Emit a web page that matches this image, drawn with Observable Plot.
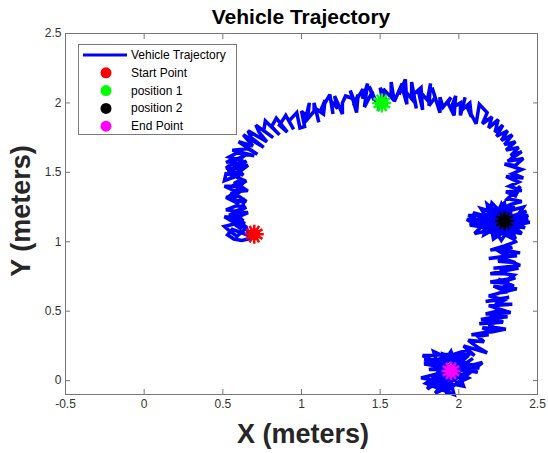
<!DOCTYPE html>
<html><head><meta charset="utf-8">
<script src="https://cdn.jsdelivr.net/npm/d3@7"></script>
<script src="https://cdn.jsdelivr.net/npm/@observablehq/plot@0.6"></script>
<style>
body{margin:0;background:#fff;font-family:"Liberation Sans",Arial,Helvetica,sans-serif}
#wrap{position:relative;width:548px;height:453px}
#wrap svg{position:absolute;left:0;top:0}
.ttl{position:absolute;font-weight:bold;color:#000;white-space:nowrap;line-height:1.15}
#legend{position:absolute;left:78px;top:44px;width:159px;height:91px;border:1px solid #7a7a7a;background:#fff;box-sizing:border-box}
.lrow{position:absolute;left:52px;font-size:12px;color:#000;white-space:nowrap;line-height:14px}
</style></head><body><div id="wrap"></div>
<script>
const chartTitle = "Vehicle Trajectory";
const xLabel = "X (meters)";
const yLabel = "Y (meters)";
const xTicks = [-0.5, 0, 0.5, 1, 1.5, 2, 2.5];
const yTicks = [0, 0.5, 1, 1.5, 2, 2.5];
const xDomain = [-0.5, 2.5];
const yDomain = [-0.1, 2.5];

// trajectory samples (x, y in meters)
const trajectory = [
// start hook
[0.70,1.05],[0.66,1.02],[0.62,1.01],[0.57,1.02],[0.53,1.05],[0.56,1.09],[0.63,1.06],[0.67,1.04],[0.65,1.10],[0.59,1.04],[0.54,1.08],
// left column
[0.51,1.11],[0.58,1.13],[0.62,1.09],[0.57,1.13],[0.65,1.10],[0.61,1.15],[0.54,1.16],[0.59,1.17],[0.64,1.13],[0.57,1.14],[0.51,1.18],[0.61,1.17],[0.56,1.20],
[0.63,1.15],[0.58,1.21],[0.66,1.21],[0.60,1.18],[0.54,1.19],[0.61,1.23],[0.56,1.20],[0.65,1.25],[0.58,1.22],[0.52,1.23],[0.59,1.26],[0.63,1.25],
[0.63,1.30],[0.59,1.28],[0.52,1.32],[0.60,1.33],[0.65,1.29],[0.58,1.30],[0.56,1.35],[0.61,1.36],[0.53,1.32],[0.59,1.37],[0.66,1.37],[0.58,1.36],[0.63,1.39],
[0.56,1.34],[0.61,1.40],[0.51,1.40],[0.57,1.37],[0.64,1.38],[0.59,1.42],[0.54,1.39],[0.61,1.41],[0.65,1.44],[0.57,1.42],[0.62,1.45],[0.58,1.47],[0.51,1.44],
[0.52,1.49],[0.61,1.47],[0.56,1.51],[0.63,1.48],[0.58,1.54],[0.66,1.55],[0.60,1.50],[0.53,1.51],[0.61,1.56],[0.56,1.55],[0.65,1.58],[0.60,1.53],
[0.52,1.53],[0.59,1.59],[0.63,1.59],[0.57,1.60],[0.52,1.57],[0.62,1.61],[0.57,1.58],[0.65,1.63],[0.60,1.59],[0.54,1.61],[0.59,1.64],[0.64,1.63],
// upper-left bend
[0.70,1.62],[0.56,1.66],[0.66,1.67],[0.72,1.63],[0.60,1.72],[0.69,1.69],[0.63,1.77],[0.76,1.68],[0.68,1.75],[0.66,1.80],
[0.78,1.72],[0.73,1.79],[0.71,1.84],[0.82,1.75],[0.76,1.80],[0.77,1.87],[0.86,1.77],[0.81,1.83],[0.84,1.89],[0.91,1.79],
[0.86,1.84],[0.90,1.91],[0.95,1.81],[0.92,1.87],[0.97,1.93],[0.99,1.82],
// top arc
[1.02,1.83],[1.00,1.94],[1.04,1.90],[1.05,2.00],[1.02,1.86],[1.08,1.94],[1.08,2.00],[1.11,1.86],[1.09,1.96],[1.14,1.92],
[1.15,2.02],[1.12,1.94],[1.18,2.06],[1.20,1.92],[1.19,2.01],[1.23,1.96],[1.21,2.05],[1.26,1.92],[1.26,2.00],[1.28,2.05],
[1.33,2.03],[1.31,2.09],[1.35,1.93],[1.36,2.06],[1.33,1.98],[1.39,2.10],[1.39,2.03],[1.42,2.14],[1.40,1.97],[1.45,2.08],
[1.46,2.02],[1.43,2.12],[1.49,1.97],[1.51,2.05],[1.50,2.11],[1.54,1.97],[1.52,2.10],[1.57,2.04],[1.57,2.15],[1.59,2.01],
[1.64,2.14],[1.62,2.06],[1.66,2.17],[1.67,1.99],[1.64,2.11],[1.70,2.03],[1.70,2.15],[1.73,1.96],[1.71,2.06],[1.76,2.11],
[1.77,1.95],[1.74,2.10],[1.80,2.02],[1.82,2.14],[1.81,1.98],[1.85,2.04],[1.83,2.11],[1.88,1.93],[1.88,2.04],[1.90,1.97],
[1.95,2.04],[1.93,2.00],[1.97,1.91],[1.98,2.05],[1.95,1.96],[2.01,2.00],[2.01,1.91],[2.04,2.04],[2.02,1.95],[2.07,2.00],
[2.08,1.90],[2.05,1.98],[2.11,1.85],[2.13,1.99],
// upper-right bend
[2.18,1.93],[2.15,1.85],[2.21,1.90],[2.19,1.82],[2.25,1.88],[2.23,1.79],[2.28,1.84],[2.24,1.76],[2.31,1.80],[2.27,1.73],
[2.34,1.77],[2.29,1.70],[2.36,1.72],[2.30,1.66],[2.38,1.68],[2.33,1.62],[2.40,1.65],[2.31,1.58],[2.41,1.60],[2.36,1.55],
[2.29,1.56],[2.40,1.52],[2.34,1.49],[2.41,1.46],
// right column above position 2
[2.30,1.47],[2.38,1.43],[2.32,1.40],[2.40,1.37],[2.30,1.36],[2.36,1.33],[2.39,1.40],[2.31,1.31],[2.40,1.29],
// cluster around position 2
[2.33,1.27],[2.07,1.12],[2.40,1.06],[2.18,1.27],[2.22,1.02],[2.44,1.19],[2.06,1.19],[2.33,1.03],[2.29,1.28],[2.10,1.06],
[2.45,1.14],[2.14,1.24],[2.27,1.01],[2.41,1.25],[2.08,1.15],[2.37,1.09],[2.21,1.28],[2.16,1.05],[2.43,1.22],[2.12,1.10],
[2.35,1.26],[2.25,1.04],[2.05,1.16],[2.42,1.10],[2.24,1.24],[2.13,1.13],[2.38,1.17],[2.30,1.05],[2.17,1.20],[2.44,1.16],
[2.20,1.08],[2.27,1.27],[2.36,1.02],[2.09,1.21],[2.32,1.14],[2.19,1.12],[2.40,1.21],[2.26,1.09],[2.14,1.18],[2.34,1.20],
[2.22,1.16],[2.30,1.10],[2.36,1.00],[2.29,0.97],
// right column going down
[2.20,0.94],[2.34,0.96],[2.27,0.93],[2.39,0.92],[2.23,0.95],[2.30,0.90],[2.37,0.90],[2.19,0.88],[2.32,0.90],[2.25,0.86],
[2.36,0.85],[2.28,0.88],[2.39,0.83],[2.22,0.81],[2.33,0.82],[2.26,0.79],[2.38,0.81],[2.20,0.77],[2.29,0.77],[2.35,0.76],
[2.30,0.72],[2.36,0.74],[2.20,0.71],[2.32,0.70],[2.25,0.73],[2.35,0.68],[2.28,0.68],[2.37,0.66],[2.22,0.68],[2.31,0.64],
[2.25,0.63],[2.36,0.66],[2.19,0.61],[2.26,0.59],[2.32,0.60],[2.17,0.57],[2.31,0.59],[2.23,0.55],[2.34,0.55],[2.19,0.54],
[2.30,0.50],[2.23,0.52],[2.33,0.49],[2.17,0.48],[2.28,0.51],[2.20,0.46],[2.31,0.46],[2.14,0.44],[2.23,0.46],[2.28,0.42],
[2.13,0.41],[2.27,0.44],[2.19,0.39],[2.30,0.37],[2.15,0.38],[2.21,0.35],[2.29,0.37],[2.08,0.33],[2.19,0.33],[2.12,0.32],
[2.16,0.28],[2.06,0.29],[2.12,0.24],[2.18,0.20],[2.03,0.25],[2.10,0.18],
// cluster around end point
[2.05,0.22],[1.78,0.12],[2.12,0.06],[1.84,0.21],[1.92,-0.08],[2.15,0.13],[1.76,0.02],[2.03,-0.04],[1.95,0.21],[1.80,-0.06],
[2.09,0.16],[1.88,0.00],[1.99,0.19],[1.77,0.18],[2.06,0.02],[1.85,-0.09],[2.00,0.12],[1.81,0.08],[2.13,0.09],[1.90,0.19],
[1.97,-0.10],[1.79,-0.02],[2.08,0.20],[1.86,0.14],[2.02,0.04],[1.83,0.01],[1.94,0.15],[2.10,0.10],[1.88,-0.06],[1.98,0.08],
[1.78,0.15],[2.04,0.16],[1.91,0.03],[1.82,-0.04],[2.00,-0.02],[1.87,0.09],[2.07,0.07],[1.93,0.11],[1.97,0.07]
];

const markerNames = ["Start Point", "position 1", "position 2", "End Point"];
const markerX = [0.70, 1.51, 2.29, 1.95];
const markerY = [1.055, 2.00, 1.15, 0.07];
const markerColors = ["#ff0000", "#00ff00", "#000000", "#ff00ff"];
const lineName = "Vehicle Trajectory";
const lineColor = "#0000ff";

const markers = markerNames.map((n, i) => ({name: n, x: markerX[i], y: markerY[i], c: markerColors[i]}));

const wrap = document.getElementById("wrap");
const fmt = d => String(d);
const axisColor = "#777";

const chart = Plot.plot({
  width: 548, height: 453,
  marginLeft: 65, marginRight: 11, marginTop: 33, marginBottom: 59,
  style: {fontFamily: '"Liberation Sans", Arial, sans-serif', fontSize: "12px", color: "#333", background: "transparent"},
  x: {domain: xDomain, ticks: xTicks, tickFormat: fmt, label: null},
  y: {domain: yDomain, ticks: yTicks, tickFormat: fmt, label: null},
  marks: [
    Plot.line(trajectory, {x: d => d[0], y: d => d[1], stroke: lineColor, strokeWidth: 3.5, strokeLinejoin: "miter", strokeMiterlimit: 3}),
    Plot.dot(markers, {x: "x", y: "y", fill: d => d.c, r: 6, symbol: "circle"}),
    Plot.dot(markers, {x: "x", y: "y", stroke: d => d.c, r: 9, symbol: "asterisk", strokeWidth: 2.5}),
    Plot.dot(markers, {x: "x", y: "y", stroke: d => d.c, r: 9, symbol: "asterisk", strokeWidth: 2.5, rotate: 30}),
    Plot.frame({stroke: axisColor, strokeWidth: 1}),
    Plot.axisX(xTicks, {anchor: "bottom", tickSize: 0, tickPadding: 5, tickFormat: fmt, fill: "#333", fontSize: 12}),
    Plot.axisY(yTicks, {anchor: "left", tickSize: 0, tickPadding: 4, tickFormat: fmt, fill: "#333", fontSize: 12}),
    Plot.axisX(xTicks, {anchor: "bottom", tickSize: -5, tickFormat: () => "", stroke: axisColor}),
    Plot.axisX(xTicks, {anchor: "top", tickSize: -5, tickFormat: () => "", stroke: axisColor}),
    Plot.axisY(yTicks, {anchor: "left", tickSize: -5, tickFormat: () => "", stroke: axisColor}),
    Plot.axisY(yTicks, {anchor: "right", tickSize: -5, tickFormat: () => "", stroke: axisColor})
  ]
});
wrap.appendChild(chart);

function addText(txt, css) {
  const d = document.createElement("div");
  d.className = "ttl";
  d.textContent = txt;
  Object.assign(d.style, css);
  wrap.appendChild(d);
  return d;
}
addText(chartTitle, {left: "1px", width: "600px", textAlign: "center", top: "5px", fontSize: "21px"});
addText(xLabel, {left: "67px", width: "472px", textAlign: "center", top: "419px", fontSize: "27px", color: "#262626"});
addText(yLabel, {fontSize: "27px", color: "#262626", left: "22px", top: "211px", transform: "translate(-50%,-50%) rotate(-90deg)"});

// legend
const lg = document.createElement("div");
lg.id = "legend";
wrap.appendChild(lg);
const rows = [{name: lineName, c: lineColor, line: true}].concat(markers.map(m => ({name: m.name, c: m.c})));
const lsvg = d3.select(lg).append("svg").attr("width", 157).attr("height", 89).style("position", "absolute").style("left", "0").style("top", "0");
rows.forEach((r, i) => {
  const cy = 10 + i * 17.8;
  if (r.line) {
    lsvg.append("line").attr("x1", 4).attr("x2", 48).attr("y1", cy).attr("y2", cy).attr("stroke", r.c).attr("stroke-width", 3);
  } else {
    lsvg.append("circle").attr("cx", 27).attr("cy", cy).attr("r", 5.5).attr("fill", r.c);
  }
  const t = document.createElement("div");
  t.className = "lrow";
  t.style.top = (cy - 7) + "px";
  t.textContent = r.name;
  lg.appendChild(t);
});
</script></body></html>
